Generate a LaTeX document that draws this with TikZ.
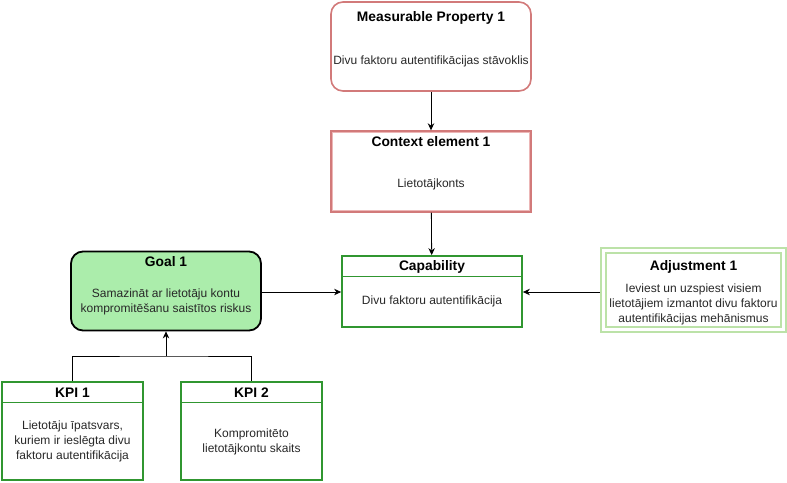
\documentclass[tikz,border=0pt]{standalone}
\usepackage{fontspec}
\setmainfont{Liberation Sans}
\usetikzlibrary{arrows.meta}
\definecolor{pinkline}{RGB}{210,122,122}
\definecolor{pinklight}{RGB}{236,182,182}
\definecolor{grn}{RGB}{48,150,48}
\definecolor{goalfill}{RGB}{171,237,171}
\definecolor{adjline}{RGB}{188,226,168}
\definecolor{bodytext}{RGB}{40,40,40}
\tikzset{
  ttl/.style={font=\fontsize{13.8}{16}\selectfont\bfseries, inner sep=0},
  txt/.style={font=\fontsize{12}{15}\selectfont, align=center, inner sep=0, text=bodytext},
  arr/.style={-{Stealth[length=7pt,width=6.5pt]}, line width=0.8pt},
  conn/.style={line width=0.8pt},
}
\begin{document}
\begin{tikzpicture}[x=1pt,y=-1pt]
\useasboundingbox (0,0) rectangle (787,482);
\fill[white] (0,0) rectangle (787,482);

% Measurable Property 1
\node[draw=pinkline, line width=1.6pt, rounded corners=12pt, minimum width=200pt, minimum height=89pt, inner sep=0] (mp) at (431,46.5) {};
\node[ttl] (mpt) at (431,17.5) {Measurable Property 1};
\node[txt] (mpb) at (431,61.5) {Divu faktoru autentifikācijas stāvoklis};

% Context element 1
\node[draw=pinkline, line width=1.4pt, minimum width=200pt, minimum height=81pt, inner sep=0] (ce) at (431,171.5) {};
\draw[pinklight, line width=1.3pt] (332.5,132.5) rectangle (529.5,210.5);
\node[ttl] (cet) at (431,141.5) {Context element 1};
\node[txt] (ceb) at (431,184) {Lietotājkonts};

% Capability
\node[draw=grn, line width=1.8pt, minimum width=180pt, minimum height=71pt, inner sep=0] (cap) at (432,291.5) {};
\draw[grn, line width=1.8pt] (342,276.5) -- (522,276.5);
\node[ttl] (capt) at (432,267) {Capability};
\node[txt] (capb) at (432,301) {Divu faktoru autentifikācija};

% Goal 1
\node[draw=black, fill=goalfill, line width=1.8pt, rounded corners=12pt, minimum width=190pt, minimum height=79pt, inner sep=0] (goal) at (166,291) {};
\node[ttl] (goalt) at (166,262) {Goal 1};
\node[txt] (goalb) at (166,301.5) {Samazināt ar lietotāju kontu\\kompromitēšanu saistītos riskus};

% Adjustment 1
\node[draw=adjline, line width=1.8pt, minimum width=185pt, minimum height=84pt, inner sep=0] (adj) at (693.5,290) {};
\draw[adjline, line width=1.8pt] (606,253) rectangle (781,327);
\node[ttl] (adjt) at (693.5,266.5) {Adjustment 1};
\node[txt] (adjb) at (693.5,304.5) {Ieviest un uzspiest visiem\\lietotājiem izmantot divu faktoru\\autentifikācijas mehānismus};

% KPI 1
\node[draw=grn, line width=1.8pt, minimum width=141pt, minimum height=98pt, inner sep=0] (kpi1) at (72.5,431) {};
\draw[grn, line width=1.8pt] (2,402.5) -- (143,402.5);
\node[ttl] (k1t) at (72.5,392.5) {KPI 1};
\node[txt] (k1b) at (72.5,441.5) {Lietotāju īpatsvars,\\kuriem ir ieslēgta divu\\faktoru autentifikācija};

% KPI 2
\node[draw=grn, line width=1.8pt, minimum width=141pt, minimum height=98pt, inner sep=0] (kpi2) at (251.5,431) {};
\draw[grn, line width=1.8pt] (181,402.5) -- (322,402.5);
\node[ttl] (k2t) at (251.5,392.5) {KPI 2};
\node[txt] (k2b) at (251.5,441.5) {Kompromitēto\\lietotājkontu skaits};

% connectors
\coordinate (hy) at (432,292);
\draw[arr] (mp) -- (ce);
\draw[arr] (ce) -- (cap);
\draw[arr] (goal.east |- hy) -- (cap.west |- hy);
\draw[arr] (adj.west |- hy) -- (cap.east |- hy);
\coordinate (j) at (166,356);
\draw[conn] (kpi1.north) |- (j) -| (kpi2.north);
\draw[arr] (j) -- (goal.south);
\end{tikzpicture}
\end{document}
